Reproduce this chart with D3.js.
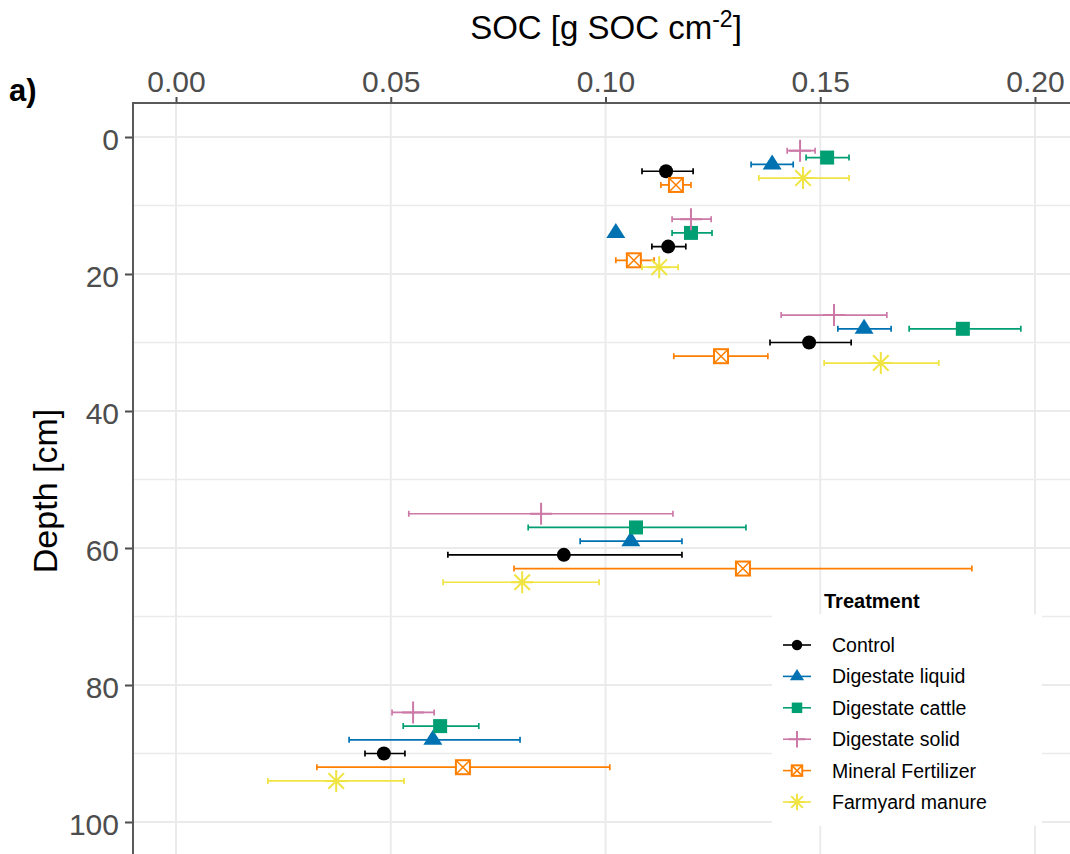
<!DOCTYPE html>
<html>
<head>
<meta charset="utf-8">
<script src="https://cdn.jsdelivr.net/npm/d3@7"></script>
<style>
  body { margin: 0; background: #fff; }
  svg { display: block; font-family: "Liberation Sans", Arial, sans-serif; }
</style>
</head>
<body>
<svg id="main_svg" width="1070" height="854"></svg>
<script>
// treatments, in legend order
const treatments = ["Control", "Digestate liquid", "Digestate cattle", "Digestate solid", "Mineral Fertilizer", "Farmyard manure"];

// sampling depth [cm] per treatment (rows follow treatments)
const depth = [
    [5, 16, 30, 61, 90],
    [4, 14, 28, 59, 88],
    [3, 14, 28, 57, 86],
    [2, 12, 26, 55, 84],
    [7, 18, 32, 63, 92],
    [6, 19, 33, 65, 94]
];

// mean SOC [g SOC cm-2]
const socMean = [
    [0.1141, 0.1146, 0.1474, 0.0903, 0.0484],
    [0.1388, 0.1024, 0.1602, 0.1059, 0.0598],
    [0.1516, 0.1199, 0.1832, 0.1071, 0.0615],
    [0.1453, 0.1199, 0.1532, 0.0850, 0.0552],
    [0.1164, 0.1066, 0.1269, 0.1320, 0.0668],
    [0.1460, 0.1125, 0.1641, 0.0806, 0.0373]
];

// error bar ends
const socLow = [
    [0.1085, 0.1108, 0.1383, 0.0633, 0.0440],
    [0.1339, 0.1024, 0.1541, 0.0941, 0.0403],
    [0.1467, 0.1155, 0.1707, 0.0820, 0.0529],
    [0.1423, 0.1155, 0.1409, 0.0542, 0.0503],
    [0.1129, 0.1024, 0.1159, 0.0787, 0.0328],
    [0.1357, 0.1085, 0.1509, 0.0622, 0.0214]
];
const socHigh = [
    [0.1204, 0.1187, 0.1572, 0.1178, 0.0533],
    [0.1437, 0.1024, 0.1665, 0.1178, 0.0801],
    [0.1567, 0.1248, 0.1967, 0.1327, 0.0705],
    [0.1488, 0.1246, 0.1655, 0.1157, 0.0601],
    [0.1199, 0.1113, 0.1378, 0.1853, 0.1010],
    [0.1567, 0.1169, 0.1776, 0.0985, 0.0531]
];

const xTicks = [0, 0.05, 0.10, 0.15, 0.20];
const yTicks = [0, 20, 40, 60, 80, 100];
const yMinor = [10, 30, 50, 70, 90];

const palette = ["#000000", "#0072B2", "#009E73", "#CC79A7", "#FF7F00", "#F0E442"];
const shapes = ["circle", "triangle", "square", "plus", "boxcross", "asterisk"];

let svg = d3.select("#main_svg");
let panel = { left: 133, top: 103, right: 1070, bottom: 854 };

let x = d3.scaleLinear().domain([0, 0.2]).range([176, 1035]);
let y = d3.scaleLinear().domain([0, 100]).range([137, 822]);
let color = d3.scaleOrdinal().domain(treatments).range(palette);
let shape = d3.scaleOrdinal().domain(treatments).range(shapes);

// grid
let grid = svg.append("g");
grid.selectAll(".minor").data(yMinor).enter().append("line")
    .attr("x1", panel.left).attr("x2", panel.right)
    .attr("y1", d => y(d)).attr("y2", d => y(d))
    .attr("stroke", "#ebebeb").attr("stroke-width", 1.3);
grid.selectAll(".hmajor").data(yTicks).enter().append("line")
    .attr("x1", panel.left).attr("x2", panel.right)
    .attr("y1", d => y(d)).attr("y2", d => y(d))
    .attr("stroke", "#ebebeb").attr("stroke-width", 2);
grid.selectAll(".vmajor").data(xTicks).enter().append("line")
    .attr("x1", d => x(d)).attr("x2", d => x(d))
    .attr("y1", panel.top).attr("y2", panel.bottom)
    .attr("stroke", "#ebebeb").attr("stroke-width", 2);

// draws one marker of a given shape, s = scale factor
function drawShape(g, type, col, s) {
    if (type === "circle") {
        g.append("circle").attr("r", 7 * s).attr("fill", col);
    } else if (type === "triangle") {
        g.append("path").attr("d", "M0," + (-10 * s) + "L" + (9.5 * s) + "," + (5 * s) + "L" + (-9.5 * s) + "," + (5 * s) + "Z").attr("fill", col);
    } else if (type === "square") {
        g.append("rect").attr("x", -7 * s).attr("y", -7 * s).attr("width", 14 * s).attr("height", 14 * s).attr("fill", col);
    } else if (type === "plus") {
        g.append("path").attr("d", "M0," + (-11 * s) + "V" + (11 * s) + "M" + (-11 * s) + ",0H" + (11 * s))
            .attr("stroke", col).attr("stroke-width", 2).attr("fill", "none");
    } else if (type === "boxcross") {
        let h = 7 * s;
        g.append("rect").attr("x", -h).attr("y", -h).attr("width", 2 * h).attr("height", 2 * h)
            .attr("fill", "#fff").attr("stroke", col).attr("stroke-width", 2);
        g.append("path").attr("d", "M" + (-h) + "," + (-h) + "L" + h + "," + h + "M" + h + "," + (-h) + "L" + (-h) + "," + h)
            .attr("stroke", col).attr("stroke-width", 1.5);
    } else if (type === "asterisk") {
        let r = 11 * s, d = r * 0.7071;
        g.append("path").attr("d", "M0," + (-r) + "V" + r + "M" + (-r) + ",0H" + r +
            "M" + (-d) + "," + (-d) + "L" + d + "," + d + "M" + d + "," + (-d) + "L" + (-d) + "," + d)
            .attr("stroke", col).attr("stroke-width", 2).attr("fill", "none");
    }
}

// data points with error bars
let marks = svg.append("g");
for (let t = 0; t < treatments.length; t++) {
    let name = treatments[t];
    for (let i = 0; i < depth[t].length; i++) {
        let yy = y(depth[t][i]);
        let x0 = x(socLow[t][i]), x1 = x(socHigh[t][i]);
        let g = marks.append("g");
        if (x1 - x0 > 1) {
            g.append("path")
                .attr("d", "M" + x0 + "," + (yy - 3) + "V" + (yy + 3) + "M" + x0 + "," + yy + "H" + x1 + "M" + x1 + "," + (yy - 3) + "V" + (yy + 3))
                .attr("stroke", color(name)).attr("stroke-width", 1.7).attr("fill", "none");
        }
        let p = g.append("g").attr("transform", "translate(" + x(socMean[t][i]) + "," + yy + ")");
        drawShape(p, shape(name), color(name), 1);
    }
}

// axes
let xAxis = svg.append("g").attr("transform", "translate(0," + panel.top + ")")
    .call(d3.axisTop(x).tickValues(xTicks).tickFormat(d3.format(".2f")).tickSize(6).tickPadding(5));
let yAxis = svg.append("g").attr("transform", "translate(" + panel.left + ",0)")
    .call(d3.axisLeft(y).tickValues(yTicks).tickSize(8).tickPadding(6));
[xAxis, yAxis].forEach(function (a) {
    a.select(".domain").remove();
    a.selectAll(".tick line").attr("stroke", "#4d4d4d").attr("stroke-width", 2);
    a.selectAll(".tick text").attr("fill", "#4d4d4d").style("font-size", "30px")
        .style("font-family", "'Liberation Sans', Arial, sans-serif");
});
yAxis.selectAll(".tick text").attr("dy", "0.43em");

svg.append("line").attr("x1", panel.left).attr("x2", panel.right)
    .attr("y1", panel.top).attr("y2", panel.top)
    .attr("stroke", "#595959").attr("stroke-width", 2);
svg.append("line").attr("x1", panel.left).attr("x2", panel.left)
    .attr("y1", panel.top - 1).attr("y2", panel.bottom)
    .attr("stroke", "#595959").attr("stroke-width", 2);

// titles
let xt = svg.append("text").attr("x", 606).attr("y", 39).attr("text-anchor", "middle")
    .style("font-size", "33px").attr("fill", "#000");
xt.append("tspan").text("SOC [g SOC cm");
xt.append("tspan").attr("dy", -12).style("font-size", "23px").text("-2");
xt.append("tspan").attr("dy", 12).text("]");

svg.append("text").attr("transform", "translate(57,491) rotate(-90)")
    .attr("text-anchor", "middle").style("font-size", "34px").attr("fill", "#000")
    .text("Depth [cm]");

svg.append("text").attr("x", 9).attr("y", 101)
    .style("font-size", "31px").style("font-weight", "bold").attr("fill", "#000")
    .text("a)");

// legend
let legend = svg.append("g");
legend.append("rect").attr("x", 772).attr("y", 614).attr("width", 270).attr("height", 212).attr("fill", "#fff");
legend.append("text").attr("x", 824).attr("y", 608)
    .style("font-size", "20px").style("font-weight", "bold").attr("fill", "#000")
    .text("Treatment");
let items = legend.selectAll(".item").data(treatments).enter().append("g")
    .attr("transform", (d, i) => "translate(797," + (645 + i * 31.4) + ")");
items.append("line").attr("x1", -14).attr("x2", 14)
    .attr("stroke", d => color(d)).attr("stroke-width", 1.6);
items.each(function (d) {
    drawShape(d3.select(this), shape(d), color(d), 0.75);
});
items.append("text").attr("x", 35).attr("dy", "0.36em")
    .style("font-size", "19.5px").attr("fill", "#000")
    .text(d => d);
</script>
</body>
</html>
